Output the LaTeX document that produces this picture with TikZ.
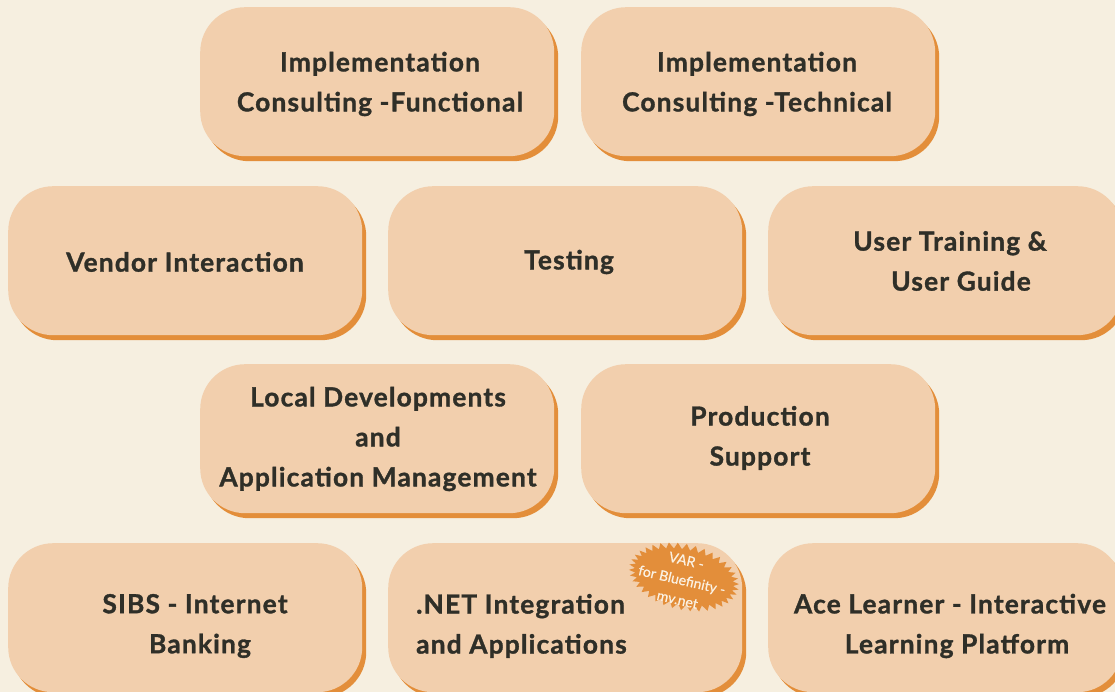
\documentclass[tikz,border=0pt]{standalone}
\usepackage{fontspec}
\setmainfont{Lato}[BoldFeatures={FakeBold=1.2,LetterSpace=4.5}]
\newfontfamily\burstfont{Lato}[FakeBold=0.5]
\usetikzlibrary{shadows}
\definecolor{bg}{HTML}{F6EFE0}
\definecolor{boxfill}{HTML}{F2CFAD}
\definecolor{shadowc}{HTML}{E38E3A}
\definecolor{txt}{HTML}{2F2F28}
\definecolor{burstText}{HTML}{FBF1E2}
\begin{document}
\begin{tikzpicture}[x=1pt,y=-1pt,
  card/.style={rectangle, rounded corners=45pt, fill=boxfill, minimum width=354pt, minimum height=149pt,
    anchor=north west, inner sep=0pt,
    drop shadow={shadow xshift=4pt, shadow yshift=-5pt, fill=shadowc, opacity=1}},
  lbl/.style={font=\bfseries\fontsize{26.3}{40}\selectfont, text=txt, align=center, inner sep=0pt},
  burst/.style={fill=shadowc},
  bursttext/.style={text=burstText, align=center, inner sep=0pt,
    font=\burstfont\fontsize{14}{20}\selectfont, rotate=-13}]
\fill[bg] (0,0) rectangle (1115,692);
\useasboundingbox (0,0) rectangle (1115,692);
% row 1
\node[card] (icf) at (200,7) {};
\node[card] (ict) at (581,7) {};
% row 2
\node[card] (vi) at (8,186) {};
\node[card] (te) at (388,186) {};
\node[card] (ut) at (768,186) {};
% row 3
\node[card] (ld) at (200,364) {};
\node[card] (ps) at (581,364) {};
% row 4
\node[card] (sibs) at (8,543) {};
\node[card] (net) at (388,543) {};
\node[card] (ace) at (768,543) {};
% labels
\node[lbl] (icfL) at (380,84) {Implementation\\Consulting -Functional};
\node[lbl] (ictL) at (757,84) {Implementation\\Consulting -Technical};
\node[lbl] (viL) at (185,262) {Vendor Interaction};
\node[lbl] (teL) at (569,262) {Testing};
\node[lbl] (utL) at (950,261) {User Training \&\\\hspace*{22pt}User Guide};
\node[lbl] (ldL) at (378,439) {Local Developments\\and\\Application Management};
\node[lbl] (psL) at (760,438) {Production\\Support};
\node[lbl] (sibsL) at (195,626) {SIBS - Internet\\\hspace*{10pt}Banking};
\node[lbl, align=left, anchor=west] (netL) at (416,626) {.NET Integration\\and Applications};
\node[lbl] (aceL) at (950,626) {Ace Learner - Interactive\\\hspace*{14pt}Learning Platform};
% starburst badge
\begin{scope}[shift={(684,577)}, rotate=-13]
\fill[burst] (56,0)
  \foreach \i in {1,...,75} { -- ({(53+3*cos(180*\i))*cos(\i*4.736842)}, {(30+3*cos(180*\i))*sin(\i*4.736842)}) } -- cycle;
\end{scope}
\node[bursttext] (varL) at (682,580) {VAR -\\for Bluefinity -\\mv.net};
\end{tikzpicture}
\end{document}
